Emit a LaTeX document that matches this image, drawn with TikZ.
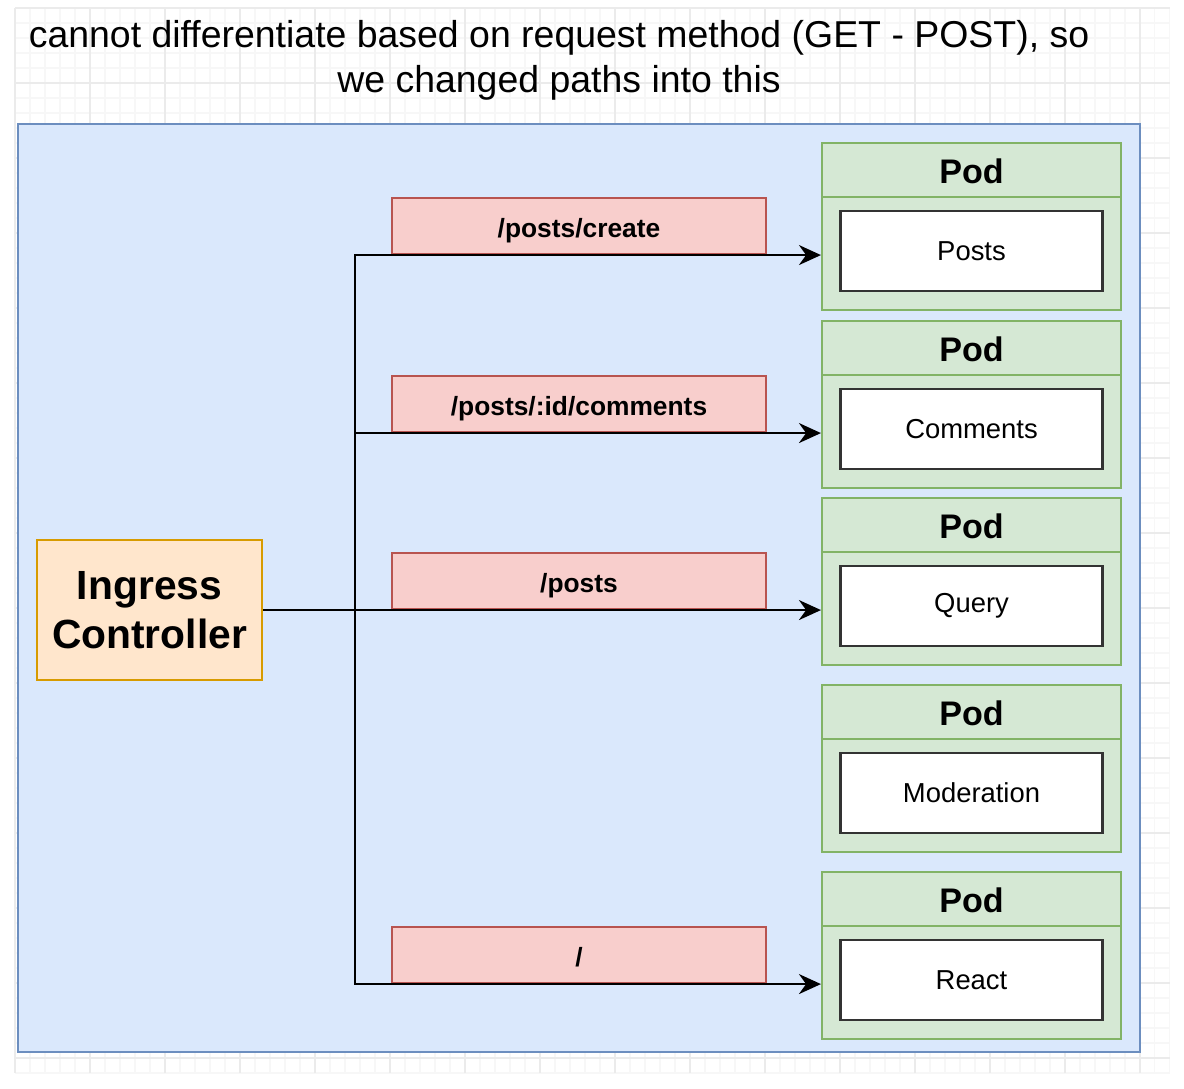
\documentclass[tikz,border=0pt]{standalone}
\usepackage{fontspec}
\setmainfont{Liberation Sans}
\usetikzlibrary{arrows.meta,positioning}
\definecolor{ingblue}{HTML}{DAE8FC}
\definecolor{ingbluedark}{HTML}{6C8EBF}
\definecolor{ingorange}{HTML}{FFE6CC}
\definecolor{ingorangedark}{HTML}{D79B00}
\definecolor{ingred}{HTML}{F8CECC}
\definecolor{ingreddark}{HTML}{B85450}
\definecolor{inggreen}{HTML}{D5E8D4}
\definecolor{inggreendark}{HTML}{82B366}

\begin{document}
\begin{tikzpicture}[
    font=\fontsize{7.8}{9.4}\selectfont,
    minorgrid/.style={draw=black!3, line width=0.3pt},
    majorgrid/.style={draw=black!8, line width=0.4pt},
    area/.style={draw=ingbluedark, fill=ingblue, line width=0.6pt},
    ctrl/.style={draw=ingorangedark, fill=ingorange, line width=0.6pt, minimum width=2.25cm, minimum height=1.4cm, align=center, font=\fontsize{11.6}{14}\selectfont\bfseries},
    route/.style={draw=ingreddark, fill=ingred, line width=0.6pt, minimum width=3.74cm, minimum height=0.56cm, text height=2.35mm, text depth=0pt, font=\fontsize{7.5}{9}\selectfont\bfseries},
    podbox/.style={draw=inggreendark, fill=inggreen, line width=0.6pt, minimum width=2.99cm, minimum height=1.67cm},
    podhead/.style={font=\fontsize{9.7}{11}\selectfont\bfseries},
    svc/.style={draw=black!80, fill=white, line width=0.7pt, minimum width=2.62cm, minimum height=0.80cm},
    arr/.style={-{Stealth[length=2.2mm, width=2mm]}, line width=0.6pt}
  ]
    \useasboundingbox (0,0) rectangle (11.84,-10.88);
    % background grid
    \draw[minorgrid, shift={(0.15,-0.08)}, step=0.15] (0,-10.65) grid (11.55,0);
    \draw[majorgrid, shift={(0.15,-0.08)}, step=0.75] (0,-10.65) grid (11.55,0);

    \node[align=center, font=\fontsize{10.65}{12.9}\selectfont] (title) at (5.59,-0.605)
      {cannot differentiate based on request method (GET - POST), so\\we changed paths into this};

    \node[area, minimum width=11.22cm, minimum height=9.28cm] (cluster) at (5.79,-5.88) {};

    \node[ctrl] (ingress) at (1.495,-6.10) {Ingress\\Controller};
    \coordinate (split) at (3.55,-6.10);

    \node[route] (rcreate) at (5.79,-2.26) {/posts/create};
    \node[route] (rcomments) at (5.79,-4.04) {/posts/:id/comments};
    \node[route] (rposts) at (5.79,-5.81) {/posts};
    \node[route] (rroot) at (5.79,-9.55) {/};

    \foreach \n/\y/\t in {1/-2.265/Posts, 2/-4.045/Comments, 3/-5.815/Query, 4/-7.685/Moderation, 5/-9.555/React} {
      \node[podbox] (pod\n) at (9.715,\y) {};
      \draw[inggreendark, line width=0.6pt] ([yshift=-0.55cm]pod\n.north west) -- ([yshift=-0.55cm]pod\n.north east);
      \node[podhead] (head\n) at ([yshift=-0.29cm]pod\n.north) {Pod};
      \node[svc, anchor=north] (svc\n) at ([yshift=-0.68cm]pod\n.north) {\t};
    }

    \draw[line width=0.7pt] (ingress.east) -- (split);
    \foreach \r/\p in {rcreate/pod1, rcomments/pod2, rposts/pod3, rroot/pod5}
      \draw[arr] (split) |- (\p.west |- \r.south);
  \end{tikzpicture}
\end{document}
